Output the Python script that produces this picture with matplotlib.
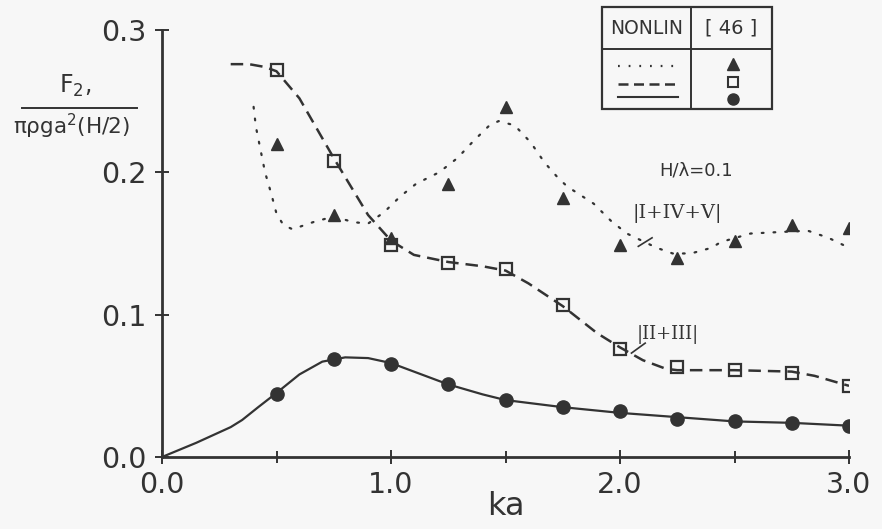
import matplotlib
matplotlib.use("Agg")
import matplotlib.pyplot as plt
from matplotlib.lines import Line2D
from matplotlib.patches import Rectangle

# ---- data ----
ka_pts = [0.5, 0.75, 1.0, 1.25, 1.5, 1.75, 2.0, 2.25, 2.5, 2.75, 3.0]
ref_tri = [0.220, 0.170, 0.154, 0.192, 0.246, 0.182, 0.149, 0.140, 0.152, 0.163, 0.161]
ref_sq = [0.272, 0.208, 0.149, 0.136, 0.132, 0.107, 0.076, 0.063, 0.061, 0.059, 0.050]
ref_circ = [0.044, 0.069, 0.065, 0.051, 0.040, 0.035, 0.032, 0.027, 0.025, 0.024, 0.022]

# NONLIN |I+IV+V| (dotted)
dot_x = [0.40, 0.41, 0.45, 0.477, 0.50, 0.53, 0.57, 0.66, 0.75, 0.835, 0.90, 0.97,
         1.04, 1.11, 1.21, 1.29, 1.36, 1.43, 1.47, 1.54, 1.61, 1.67, 1.73, 1.77,
         1.885, 1.96, 2.03, 2.16, 2.23, 2.31, 2.40, 2.44, 2.57, 2.69, 2.82, 2.91, 3.0]
dot_y = [0.246, 0.232, 0.200, 0.185, 0.171, 0.163, 0.160, 0.165, 0.169, 0.165, 0.164, 0.172,
         0.183, 0.192, 0.200, 0.210, 0.222, 0.233, 0.236, 0.233, 0.221, 0.207, 0.196, 0.190,
         0.178, 0.166, 0.157, 0.147, 0.143, 0.143, 0.147, 0.151, 0.157, 0.158, 0.159, 0.154, 0.147]

# NONLIN |II+III| (dashed)
dash_x = [0.30, 0.38, 0.45, 0.50, 0.60, 0.75, 0.90, 1.00, 1.10, 1.25, 1.40, 1.50, 1.60,
          1.75, 1.90, 2.00, 2.10, 2.20, 2.25, 2.50, 2.75, 2.85, 3.00]
dash_y = [0.276, 0.276, 0.274, 0.271, 0.252, 0.210, 0.170, 0.152, 0.142, 0.137, 0.134, 0.131, 0.122,
          0.106, 0.087, 0.077, 0.068, 0.062, 0.061, 0.061, 0.060, 0.057, 0.050]

# NONLIN total (solid)
sol_x = [0.0, 0.15, 0.30, 0.35, 0.42, 0.50, 0.60, 0.70, 0.80, 0.90, 1.00, 1.10, 1.25,
         1.40, 1.50, 1.75, 2.00, 2.25, 2.50, 2.75, 3.00]
sol_y = [0.0, 0.010, 0.021, 0.026, 0.035, 0.045, 0.058, 0.067, 0.070, 0.0695, 0.066, 0.060, 0.051,
         0.044, 0.040, 0.035, 0.031, 0.028, 0.025, 0.024, 0.022]

x_major = [0.0, 1.0, 2.0, 3.0]
x_minor = [0.5, 1.5, 2.5]
y_ticks = [0.0, 0.1, 0.2, 0.3]

C = "#333333"
BG = "#f7f7f7"

fig = plt.figure(figsize=(8.82, 5.29), dpi=100, facecolor=BG)
ax = fig.add_axes([162/882, 1-457/529, (849-162)/882, (457-30)/529])
ax.set_facecolor(BG)

ax.plot(dot_x, dot_y, color=C, lw=1.6, linestyle=(0, (0.8, 4.5)), dash_capstyle="round")
ax.plot(dash_x, dash_y, color=C, lw=1.8, linestyle=(0, (5, 2.8)))
ax.plot(sol_x, sol_y, color=C, lw=1.6, linestyle="-")

ax.plot(ka_pts, ref_tri, "^", color=C, ms=9, mec=C, mfc=C, ls="none")
ax.plot(ka_pts, ref_sq, "s", color=C, ms=9, mec=C, mfc="none", mew=1.6, ls="none")
ax.plot(ka_pts, ref_circ, "o", color=C, ms=9.5, mec=C, mfc=C, ls="none")

ax.set_xlim(0, 3.0)
ax.set_ylim(0, 0.3)
ax.spines["top"].set_visible(False)
ax.spines["right"].set_visible(False)
for s in ("left", "bottom"):
    ax.spines[s].set_color(C)
    ax.spines[s].set_linewidth(2.0)

ax.set_xticks(x_major)
ax.set_xticks(x_minor, minor=True)
ax.set_xticklabels(["0.0", "1.0", "2.0", "3.0"])
ax.set_yticks(y_ticks)
ax.set_yticklabels(["0.0", "0.1", "0.2", "0.3"])
ax.tick_params(axis="both", which="both", direction="inout", color=C, width=1.4,
               labelcolor=C, labelsize=20.5)
ax.tick_params(axis="x", which="major", length=10, pad=5)
ax.tick_params(axis="x", which="minor", length=8)
ax.tick_params(axis="y", which="major", length=10, pad=6)

ax.set_xlabel("ka", fontsize=23, color=C, labelpad=-6)

# annotations
ax.text(2.33, 0.201, "H/\u03bb=0.1", fontsize=13, color=C, ha="center", va="center")
ax.text(2.25, 0.171, "|I+IV+V|", fontsize=14, color=C, ha="center", va="center",
        family="DejaVu Serif")
ax.plot([2.08, 2.14], [0.148, 0.154], color=C, lw=1.2)
ax.text(2.21, 0.086, "|II+III|", fontsize=13, color=C, ha="center", va="center",
        family="DejaVu Serif")
ax.plot([2.05, 2.11], [0.073, 0.080], color=C, lw=1.2)

# y-label as fraction
fig.text(75/882, 1-86/529, "F$_2$,", fontsize=17, color=C, ha="center", va="center")
fig.add_artist(Line2D([22/882, 137/882], [1-108/529, 1-108/529], color=C, lw=1.4))
fig.text(72/882, 1-126/529, "\u03c0\u03c1ga$^2$(H/2)", fontsize=15.5, color=C,
         ha="center", va="center")

# legend table
x0, x1, xm = 602/882, 772/882, 691/882
y0, y1, ym = 1-109/529, 1-7/529, 1-49/529
fig.add_artist(Rectangle((x0, y0), x1-x0, y1-y0, transform=fig.transFigure,
                         fill=False, ec=C, lw=1.6))
fig.add_artist(Line2D([xm, xm], [y0, y1], color=C, lw=1.4))
fig.add_artist(Line2D([x0, x1], [ym, ym], color=C, lw=1.4))
fig.text((x0+xm)/2, 1-28/529, "NONLIN", fontsize=13.5, color=C, ha="center", va="center")
fig.text((xm+x1)/2, 1-28/529, "[ 46 ]", fontsize=14, color=C, ha="center", va="center")
lx = [618/882, 678/882]
fig.add_artist(Line2D(lx, [1-66/529]*2, color=C, lw=1.6, linestyle=(0, (0.8, 4.0))))
fig.add_artist(Line2D(lx, [1-84/529]*2, color=C, lw=1.8, linestyle=(0, (4, 2.2))))
fig.add_artist(Line2D(lx, [1-97/529]*2, color=C, lw=1.5))
mx = 733/882
fig.add_artist(Line2D([mx], [1-64/529], marker="^", ms=8, color=C, ls="none"))
fig.add_artist(Line2D([mx], [1-82/529], marker="s", ms=7.5, mfc="none", mec=C, mew=1.5, ls="none"))
fig.add_artist(Line2D([mx], [1-99/529], marker="o", ms=8, color=C, ls="none"))

fig.savefig("out.png", dpi=100, facecolor=BG)
